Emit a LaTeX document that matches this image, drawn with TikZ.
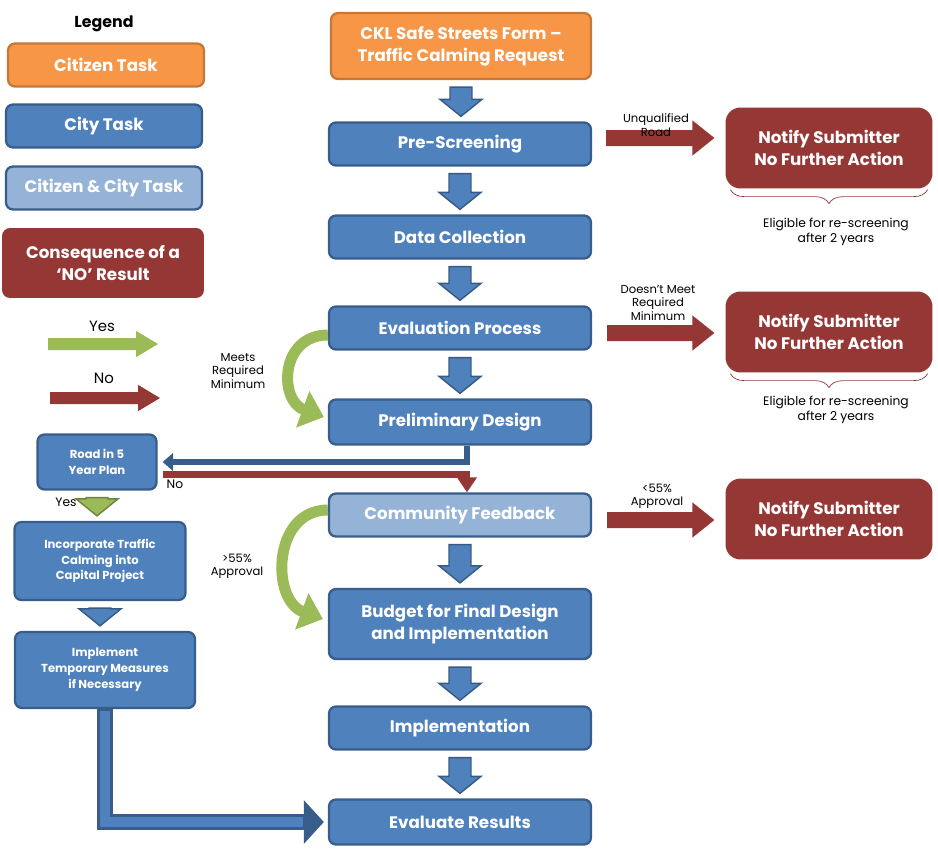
\documentclass[tikz,border=0pt]{standalone}
\usepackage{fontspec}
\setmainfont{Poppins}
\usetikzlibrary{calc,positioning,arrows.meta,decorations.pathreplacing}

\definecolor{cityfill}{HTML}{4F81BD}
\definecolor{cityline}{HTML}{385D8A}
\definecolor{citizenfill}{HTML}{F79646}
\definecolor{bothfill}{HTML}{95B3D7}
\definecolor{nofill}{HTML}{953735}
\definecolor{yesfill}{HTML}{9BBB59}

% block arrow pointing down, between two named nodes
\newcommand\downblock[3][cityfill]{%
  \filldraw[fill=#1,draw=#1!70!black,line width=0.8pt]
    let \p1=($(#2.south)+(0,-0.14cm)$), \p2=($(#3.north)+(0,0.1cm)$) in
    (\x1-0.22cm,\y1) -- (\x1+0.22cm,\y1) -- (\x1+0.22cm,\y2+0.34cm)
    -- (\x1+0.42cm,\y2+0.34cm) -- (\x1,\y2) -- (\x1-0.42cm,\y2+0.34cm)
    -- (\x1-0.22cm,\y2+0.34cm) -- cycle;}
% block arrow pointing right
\newcommand\rightblock[4][nofill]{%
  \fill[#1]
    let \p1=(#2), \p2=(#3) in
    (\x1,\y1+#4) -- (\x2-0.44cm,\y1+#4) -- (\x2-0.44cm,\y1+2.2*#4)
    -- (\x2,\y1) -- (\x2-0.44cm,\y1-2.2*#4) -- (\x2-0.44cm,\y1-#4)
    -- (\x1,\y1-#4) -- cycle;}

\begin{document}
\begin{tikzpicture}[
x=0.02cm, y=-0.02cm,
box/.style={
    rounded corners=0.14cm,
    draw=cityline,
    line width=1.3pt,
    fill=cityfill,
    text=white,
    align=center,
    inner sep=0pt,
    font=\fontsize{9.5}{12.5}\selectfont\bfseries,
    minimum width=5.24cm,
    minimum height=0.86cm
    },
small/.style={
    box,
    font=\fontsize{6.6}{9}\selectfont\bfseries,
    },
nobox/.style={
    box,
    draw=none,
    fill=nofill,
    rounded corners=0.3cm,
    minimum width=4.14cm,
    minimum height=1.62cm
    },
lbl/.style={
    align=center,
    font=\fontsize{6.6}{7.6}\selectfont,
    inner sep=0pt
    },
curve/.style={
    yesfill,
    line width=0.22cm,
    -{Triangle[length=0.45cm,width=0.75cm]}
    },
brc/.style={
    nofill,
    thin,
    decorate,
    decoration={brace,mirror,amplitude=0.28cm}
    },
]
\useasboundingbox (0,0) rectangle (938,856);

% legend
\node[font=\fontsize{9}{11}\selectfont\bfseries] (legend) at (104,24) {Legend};
\node[box,fill=citizenfill,draw=citizenfill!80!black,minimum width=3.92cm] (lcitizen) at (106,65) {Citizen Task};
\node[box,minimum width=3.92cm] (lcity) at (104,126) {City Task};
\node[box,fill=bothfill,minimum width=3.92cm] (lboth) at (104,188) {Citizen \& City Task};
\node[nobox,rounded corners=0.16cm,minimum width=4.04cm,minimum height=1.4cm] (lno) at (103,263) {Consequence of a\\‘NO’ Result};
\coordinate (yesa) at (48,344);
\coordinate (yesb) at (158,344);
\coordinate (noa) at (50,398);
\coordinate (nob) at (160,398);
\rightblock[yesfill]{yesa}{yesb}{0.12cm}
\rightblock[nofill]{noa}{nob}{0.12cm}
\node[lbl,font=\fontsize{8.5}{10}\selectfont] (yeslbl) at (102,326) {Yes};
\node[lbl,font=\fontsize{8.5}{10}\selectfont] (nolbl) at (104,378) {No};

% main column
\node[box,fill=citizenfill,draw=citizenfill!80!black,minimum width=5.2cm,minimum height=1.32cm] (start) at (461,46) {CKL Safe Streets Form –\\Traffic Calming Request};
\node[box] (pre) at (460,144) {Pre-Screening};
\node[box] (data) at (460,237) {Data Collection};
\node[box] (eval) at (460,328) {Evaluation Process};
\node[box,minimum height=0.9cm] (prelim) at (460,422) {Preliminary Design};
\node[box,fill=bothfill] (comm) at (460,515) {Community Feedback};
\node[box,minimum height=1.4cm] (budget) at (460,624) {Budget for Final Design\\and Implementation};
\node[box] (impl) at (460,728) {Implementation};
\node[box,minimum height=0.9cm] (evalres) at (460,822) {Evaluate Results};

\downblock{start}{pre}
\downblock{pre}{data}
\downblock{data}{eval}
\downblock{eval}{prelim}
\downblock{comm}{budget}
\downblock{budget}{impl}
\downblock{impl}{evalres}

% consequences
\node[nobox] (notify1) at (829,148) {Notify Submitter\\No Further Action};
\node[nobox] (notify2) at (829,332) {Notify Submitter\\No Further Action};
\node[nobox] (notify3) at (829,519) {Notify Submitter\\No Further Action};
\rightblock{$(pre.east)+(0.28cm,0.12cm)$}{$(notify1.west)+(-0.2cm,0)$}{0.16cm}
\rightblock{$(eval.east)+(0.3cm,-0.1cm)$}{$(notify2.west)+(-0.2cm,0)$}{0.16cm}
\rightblock{$(comm.east)+(0.3cm,-0.1cm)$}{$(notify3.west)+(-0.2cm,0)$}{0.16cm}
\node[lbl] (unq) at (656,125) {Unqualified\\Road};
\node[lbl] (dnm) at (658,303) {Doesn’t Meet\\Required\\Minimum};
\node[lbl] (low) at (657,496) {<55\%\\Approval};

\draw[brc] ([xshift=0.12cm]notify1.south west) -- ([xshift=-0.12cm]notify1.south east);
\draw[brc] ([xshift=0.12cm]notify2.south west) -- ([xshift=-0.12cm]notify2.south east);
\node[lbl,font=\fontsize{7}{8.2}\selectfont] (elig1) at (836,232) {Eligible for re-screening\\after 2 years};
\node[lbl,font=\fontsize{7}{8.2}\selectfont] (elig2) at (836,410) {Eligible for re-screening\\after 2 years};

% green yes curves
\draw[curve] ([yshift=-0.14cm]eval.west) to[out=180,in=160,looseness=1.5] ([xshift=-0.08cm,yshift=0.1cm]prelim.west);
\draw[curve] ([yshift=0.1cm]comm.west) to[out=180,in=160,looseness=1.3] ([xshift=-0.1cm,yshift=0.1cm]budget.west);
\node[lbl] (meets) at (238,371) {Meets\\Required\\Minimum};
\node[lbl] (high) at (237,566) {>55\%\\Approval};

% left branch
\node[small,minimum width=2.38cm,minimum height=1.1cm] (road) at (97,462) {Road in 5\\Year Plan};
\node[small,minimum width=3.42cm,minimum height=1.56cm] (incorp) at (100,561) {Incorporate Traffic\\Calming into\\Capital Project};
\node[small,minimum width=3.6cm,minimum height=1.52cm] (temp) at (105,670) {Implement\\Temporary Measures\\if Necessary};
\draw[cityline,line width=3pt,-{Triangle[length=6pt,width=10pt]}]
  ([xshift=0.14cm]prelim.south) |- ([xshift=0.1cm]road.east);
\draw[nofill,line width=0.14cm,-{Triangle[length=0.3cm,width=0.38cm]}]
  ([xshift=0.1cm,yshift=-0.24cm]road.east) -| ([xshift=0.14cm]comm.north);
\node[lbl,font=\fontsize{7}{8}\selectfont] (nob2) at (175,484) {No};
\downblock[yesfill]{road}{incorp}
\node[lbl,font=\fontsize{7}{8}\selectfont] (yes2) at (66,502) {Yes};
\downblock{incorp}{temp}
\draw[cityline,line width=0.32cm,-{Triangle[length=0.4cm,width=0.85cm]}]
  (temp.south) |- ([xshift=-0.08cm]evalres.west);
\draw[cityfill,line width=0.2cm]
  ([yshift=-0.04cm]temp.south) |- ([xshift=-0.5cm]evalres.west);
\end{tikzpicture}
\end{document}
